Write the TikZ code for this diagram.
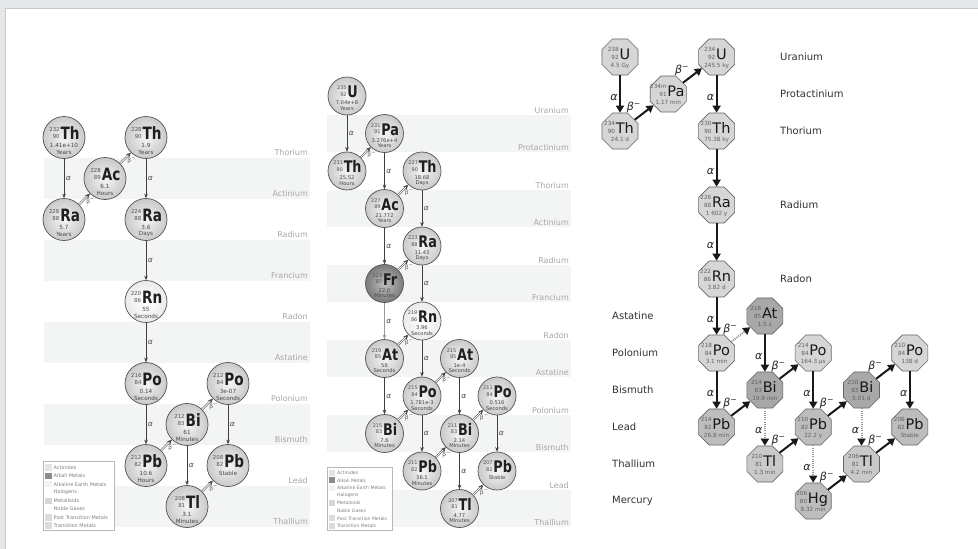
\documentclass[tikz,border=0pt]{standalone}
\usepackage{fontspec}
\setmainfont{DejaVu Sans}
\newfontfamily\symfont[FakeStretch=0.8]{DejaVu Sans Bold}
\usetikzlibrary{shapes.geometric,arrows.meta}
\definecolor{frameg}{HTML}{E6E7E8}
\definecolor{bandg}{HTML}{F3F4F4}
\definecolor{labg}{HTML}{A8A8A8}
\newcommand\myBeta{β\textsuperscript{−}}
% left panel nuclide
\newcommand\lnuc[9]{%
  \node[lball,#9] (#1) at (#2,#3) {};
  \node[anchor=base,inner sep=0pt,text=black!88] (#1s) at ({#2+0.5},{#3+1.8}) {\raisebox{1.2pt}{\fontsize{5.4}{8.8}\selectfont\color{black!68}\shortstack[r]{#4\\#5}}\hspace{1pt}{\symfont\fontsize{17}{17}\selectfont #6}};
  \node[inner sep=0pt,text=black!72,font=\fontsize{5.7}{5.7}\selectfont] (#1a) at (#2,{#3+8.2}) {#7};
  \node[inner sep=0pt,text=black!72,font=\fontsize{5.7}{5.7}\selectfont] (#1b) at (#2,{#3+14.5}) {#8};
}
% middle panel nuclide
\newcommand\mnuc[9]{%
  \node[mball,#9] (#1) at (#2,#3) {};
  \node[anchor=base,inner sep=0pt,text=black!88] (#1s) at ({#2+0.5},{#3+1.5}) {\raisebox{1.2pt}{\fontsize{5}{8.4}\selectfont\color{black!68}\shortstack[r]{#4\\#5}}\hspace{0.8pt}{\symfont\fontsize{16}{16}\selectfont #6}};
  \node[inner sep=0pt,text=black!72,font=\fontsize{5.2}{5.2}\selectfont] (#1a) at (#2,{#3+6.8}) {#7};
  \node[inner sep=0pt,text=black!72,font=\fontsize{5.2}{5.2}\selectfont] (#1b) at (#2,{#3+12.5}) {#8};
}
% right panel nuclide (octagon)
\newcommand\onuc[8]{%
  \node[oct=#8] (#1) at (#2,#3) {};
  \node[anchor=base,inner sep=0pt] (#1s) at ({#2-1},{#3+2.5}) {\raisebox{0.3pt}{\fontsize{5.7}{7}\selectfont\color{black!62}\shortstack[r]{#4\\#5}}\hspace{0.8pt}{\fontsize{14.5}{14.5}\selectfont\color{black!90}#6}};
  \node[inner sep=0pt,text=black!62,font=\fontsize{5.7}{5.7}\selectfont] (#1h) at (#2,{#3+8.5}) {#7};
}
\begin{document}
\begin{tikzpicture}[x=1pt,y=-1pt,
  lball/.style={circle,minimum size=42pt,inner sep=0pt,draw=black!68,line width=0.7pt,shading=radial,inner color=black!4,outer color=black!21},
  mball/.style={lball,minimum size=38pt},
  noble/.style={inner color=white,outer color=black!8},
  alkali/.style={inner color=black!25,outer color=black!52},
  bandlab/.style={inner sep=0pt,text=labg,font=\fontsize{8}{8}\selectfont},
  aL/.style={draw=black!75,line width=0.7pt,-{Stealth[length=4.5pt,width=3.6pt]}},
  aLf/.style={aL,draw=black!40},
  bL/.style={draw=black!70,line width=0.45pt,double=white,double distance=0.9pt,-{Stealth[length=5pt,width=4.5pt]}},
  alab/.style={right=1.5pt,pos=0.5,inner sep=0pt,text=black!70,font=\itshape\fontsize{7.5}{7.5}\selectfont},
  blab/.style={pos=0.6,below right=0pt,inner sep=0.5pt,text=black!60,font=\fontsize{6}{6}\selectfont},
  leglab/.style={anchor=west,inner sep=0pt,text=black!50},
  oct/.style={regular polygon,regular polygon sides=8,minimum size=39pt,inner sep=0pt,draw=black!60,line width=0.6pt,fill=#1},
  aR/.style={draw=black!90,line width=2pt,-{Triangle[length=7pt,width=8pt]}},
  dR/.style={draw=black!40,line width=2pt,dash pattern=on 1.1pt off 1.1pt,-{Triangle[length=7pt,width=8pt,color=black!90]}},
  ralab/.style={left=1pt,pos=0.6,inner sep=0.5pt,text=black!85,font=\itshape\fontsize{11}{11}\selectfont},
  rblab/.style={above left=0pt,pos=0.4,inner sep=0.5pt,text=black!85,font=\itshape\fontsize{11}{11}\selectfont},
  rowlab/.style={anchor=west,inner sep=0pt,text=black!80,font=\fontsize{10}{10}\selectfont}
]
\useasboundingbox (0,0) rectangle (978,549);
% frame
\fill[frameg] (0,0) rectangle (978,549);
\fill[white] (5.5,8.5) rectangle (978,549);
\draw[black!22,line width=1pt] (5.5,549) -- (5.5,8.5) -- (978,8.5);

%================ LEFT PANEL (thorium series) ================
\foreach \i in {1,3,5,7,9} \fill[bandg] (44,{117+41*\i}) rectangle (310,{158+41*\i});
\foreach \lab [count=\i from 0] in {Thorium,Actinium,Radium,Francium,Radon,Astatine,Polonium,Bismuth,Lead,Thallium}
  \node[bandlab,anchor=east] (ll\i) at (308,{153+41*\i}) {\lab};

\lnuc{lTha}{64}{137.5}{232}{90}{Th}{1.41e+10}{Years}{}
\lnuc{lAc}{105}{178.5}{228}{89}{Ac}{6.1}{Hours}{}
\lnuc{lRaa}{64}{219.5}{228}{88}{Ra}{5.7}{Years}{}
\lnuc{lThb}{146}{137.5}{228}{90}{Th}{1.9}{Years}{}
\lnuc{lRab}{146}{219.5}{224}{88}{Ra}{3.6}{Days}{}
\lnuc{lRn}{146}{301.5}{220}{86}{Rn}{55}{Seconds}{noble}
\lnuc{lPoa}{146}{383.5}{216}{84}{Po}{0.14}{Seconds}{}
\lnuc{lPba}{146}{465.5}{212}{82}{Pb}{10.6}{Hours}{}
\lnuc{lBi}{187}{424.5}{212}{83}{Bi}{61}{Minutes}{}
\lnuc{lPob}{228}{383.5}{212}{84}{Po}{3e-07}{Seconds}{}
\lnuc{lPbb}{228}{465.5}{208}{82}{Pb}{Stable}{}{}
\lnuc{lTl}{187}{506.5}{208}{81}{Tl}{3.1}{Minutes}{}

\draw[aL] (lTha) -- node[alab]{α} (lRaa);
\draw[bL] (lRaa) -- node[blab]{\myBeta} (lAc);
\draw[bL] (lAc) -- node[blab]{\myBeta} (lThb);
\draw[aL] (lThb) -- node[alab]{α} (lRab);
\draw[aL] (lRab) -- node[alab]{α} (lRn);
\draw[aL] (lRn) -- node[alab]{α} (lPoa);
\draw[aL] (lPoa) -- node[alab]{α} (lPba);
\draw[bL] (lPba) -- node[blab]{\myBeta} (lBi);
\draw[bL] (lBi) -- node[blab]{\myBeta} (lPob);
\draw[aL] (lBi) -- node[alab]{α} (lTl);
\draw[aL] (lPob) -- node[alab]{α} (lPbb);
\draw[bL] (lTl) -- node[blab]{\myBeta} (lPbb);

% legend left
\draw[black!28,fill=white,line width=0.6pt] (43,461) rectangle (114,530);
\foreach \lab/\col [count=\i from 0] in {Actinides/black!10,Alkali Metals/black!45,Alkaline Earth Metals/black!5,Halogens/white,Metalloids/black!16,Noble Gases/white,Post Transition Metals/black!14,Transition Metals/black!14}{
  \fill[\col] (45,{464.3+8.3*\i}) rectangle (51.5,{470.8+8.3*\i});
  \node[leglab,font=\fontsize{5}{5}\selectfont] (lg\i) at (53.5,{467.6+8.3*\i}) {\lab};
}

%================ MIDDLE PANEL (actinium series) ================
\foreach \i in {1,3,5,7,9,11} \fill[bandg] (327,{77.25+37.5*\i}) rectangle (571,{114.75+37.5*\i});
\foreach \lab [count=\i from 0] in {Uranium,Protactinium,Thorium,Actinium,Radium,Francium,Radon,Astatine,Polonium,Bismuth,Lead,Thallium}
  \node[bandlab,anchor=east] (ml\i) at (569,{110.25+37.5*\i}) {\lab};

\mnuc{mU}{347}{96}{235}{92}{U}{7.04e+8}{Years}{}
\mnuc{mTha}{347}{171}{231}{90}{Th}{25.52}{Hours}{}
\mnuc{mPa}{384.5}{133.5}{231}{91}{Pa}{3.276e+4}{Years}{}
\mnuc{mAc}{384.5}{208.5}{227}{89}{Ac}{21.772}{Years}{}
\mnuc{mThb}{422}{171}{227}{90}{Th}{18.68}{Days}{}
\mnuc{mRa}{422}{246}{223}{88}{Ra}{11.43}{Days}{}
\mnuc{mFr}{384.5}{283.5}{223}{87}{Fr}{22.0}{Minutes}{alkali}
\mnuc{mRn}{422}{321}{219}{86}{Rn}{3.96}{Seconds}{noble}
\mnuc{mAta}{384.5}{358.5}{219}{85}{At}{56}{Seconds}{}
\mnuc{mAtb}{459.5}{358.5}{215}{85}{At}{1e-4}{Seconds}{}
\mnuc{mPoa}{422}{396}{215}{84}{Po}{1.781e-3}{Seconds}{}
\mnuc{mBia}{384.5}{433.5}{215}{83}{Bi}{7.6}{Minutes}{}
\mnuc{mBib}{459.5}{433.5}{211}{83}{Bi}{2.14}{Minutes}{}
\mnuc{mPob}{497}{396}{211}{84}{Po}{0.516}{Seconds}{}
\mnuc{mPba}{422}{471}{211}{82}{Pb}{36.1}{Minutes}{}
\mnuc{mPbb}{497}{471}{207}{82}{Pb}{Stable}{}{}
\mnuc{mTl}{459.5}{508.5}{207}{81}{Tl}{4.77}{Minutes}{}

\draw[aL] (mU) -- node[alab]{α} (mTha);
\draw[bL] (mTha) -- node[blab]{\myBeta} (mPa);
\draw[aL] (mPa) -- node[alab]{α} (mAc);
\draw[bL] (mAc) -- node[blab]{\myBeta} (mThb);
\draw[aL] (mThb) -- node[alab]{α} (mRa);
\draw[aL] (mAc) -- node[alab]{α} (mFr);
\draw[bL] (mFr) -- node[blab]{\myBeta} (mRa);
\draw[aL] (mRa) -- node[alab]{α} (mRn);
\draw[aLf] (mFr) -- node[alab]{α} (mAta);
\draw[bL] (mAta) -- node[blab]{\myBeta} (mRn);
\draw[aL] (mRn) -- node[alab]{α} (mPoa);
\draw[aL] (mAta) -- node[alab]{α} (mBia);
\draw[bL] (mPoa) -- node[blab]{\myBeta} (mAtb);
\draw[bL] (mBia) -- node[blab]{\myBeta} (mPoa);
\draw[aL] (mPoa) -- node[alab]{α} (mPba);
\draw[aL] (mAtb) -- node[alab]{α} (mBib);
\draw[bL] (mPba) -- node[blab]{\myBeta} (mBib);
\draw[bL] (mBib) -- node[blab]{\myBeta} (mPob);
\draw[aL] (mBib) -- node[alab]{α} (mTl);
\draw[aL] (mPob) -- node[alab]{α} (mPbb);
\draw[bL] (mTl) -- node[blab]{\myBeta} (mPbb);

% legend middle
\draw[black!28,fill=white,line width=0.6pt] (327,467) rectangle (392,530);
\foreach \lab/\col [count=\i from 0] in {Actinides/black!10,Alkali Metals/black!45,Alkaline Earth Metals/black!5,Halogens/white,Metalloids/black!16,Noble Gases/white,Post Transition Metals/black!14,Transition Metals/black!14}{
  \fill[\col] (329,{469.8+7.6*\i}) rectangle (335,{475.8+7.6*\i});
  \node[leglab,font=\fontsize{4.6}{4.6}\selectfont] (mg\i) at (337,{472.8+7.6*\i}) {\lab};
}

%================ RIGHT PANEL (uranium series) ================
\onuc{rUa}{620}{57}{238}{92}{U}{4.5 Gy}{black!16}
\onuc{rTha}{620}{131}{234}{90}{Th}{24.1 d}{black!16}
\onuc{rPa}{668.3}{94}{234m}{91}{Pa}{1.17 min}{black!16}
\onuc{rUb}{716.6}{57}{234}{92}{U}{245.5 ky}{black!16}
\onuc{rThb}{716.6}{131}{230}{90}{Th}{75.38 ky}{black!16}
\onuc{rRa}{716.6}{205}{226}{88}{Ra}{1 602 y}{black!16}
\onuc{rRn}{716.6}{279}{222}{86}{Rn}{3.82 d}{black!16}
\onuc{rAt}{764.9}{316}{218}{85}{At}{1.5 s}{black!34}
\onuc{rPoa}{716.6}{353}{218}{84}{Po}{3.1 min}{black!16}
\onuc{rBia}{764.9}{390}{214}{83}{Bi}{19.9 min}{black!34}
\onuc{rPob}{813.2}{353}{214}{84}{Po}{164.3 µs}{black!16}
\onuc{rBib}{861.5}{390}{210}{83}{Bi}{5.01 d}{black!34}
\onuc{rPoc}{909.8}{353}{210}{84}{Po}{138 d}{black!16}
\onuc{rPba}{716.6}{427}{214}{82}{Pb}{26.8 min}{black!26}
\onuc{rTla}{764.9}{464}{210}{81}{Tl}{1.3 min}{black!21}
\onuc{rPbb}{813.2}{427}{210}{82}{Pb}{22.2 y}{black!26}
\onuc{rHg}{813.2}{501}{206}{80}{Hg}{8.32 min}{black!26}
\onuc{rTlb}{861.5}{464}{206}{81}{Tl}{4.2 min}{black!21}
\onuc{rPbc}{909.8}{427}{206}{82}{Pb}{Stable}{black!26}

\draw[aR] (rUa) -- node[ralab]{α} (rTha);
\draw[aR] (rTha) -- node[rblab]{\myBeta} (rPa);
\draw[aR] (rPa) -- node[rblab]{\myBeta} (rUb);
\draw[aR] (rUb) -- node[ralab]{α} (rThb);
\draw[aR] (rThb) -- node[ralab]{α} (rRa);
\draw[aR] (rRa) -- node[ralab]{α} (rRn);
\draw[aR] (rRn) -- node[ralab]{α} (rPoa);
\draw[dR] (rPoa) -- node[rblab]{\myBeta} (rAt);
\draw[aR] (rAt) -- node[ralab]{α} (rBia);
\draw[aR] (rPoa) -- node[ralab]{α} (rPba);
\draw[aR] (rPba) -- node[rblab]{\myBeta} (rBia);
\draw[aR] (rBia) -- node[rblab]{\myBeta} (rPob);
\draw[dR] (rBia) -- node[ralab]{α} (rTla);
\draw[aR] (rPob) -- node[ralab]{α} (rPbb);
\draw[aR] (rTla) -- node[rblab]{\myBeta} (rPbb);
\draw[aR] (rPbb) -- node[rblab]{\myBeta} (rBib);
\draw[dR] (rPbb) -- node[ralab]{α} (rHg);
\draw[aR] (rHg) -- node[rblab]{\myBeta} (rTlb);
\draw[aR] (rBib) -- node[rblab]{\myBeta} (rPoc);
\draw[dR] (rBib) -- node[ralab]{α} (rTlb);
\draw[aR] (rPoc) -- node[ralab]{α} (rPbc);
\draw[aR] (rTlb) -- node[rblab]{\myBeta} (rPbc);

\node[rowlab] (rlU) at (780,57) {Uranium};
\node[rowlab] (rlPa) at (780,94) {Protactinium};
\node[rowlab] (rlTh) at (780,131) {Thorium};
\node[rowlab] (rlRa) at (780,205) {Radium};
\node[rowlab] (rlRn) at (780,279) {Radon};
\node[rowlab] (rlAt) at (612,316) {Astatine};
\node[rowlab] (rlPo) at (612,353) {Polonium};
\node[rowlab] (rlBi) at (612,390) {Bismuth};
\node[rowlab] (rlPb) at (612,427) {Lead};
\node[rowlab] (rlTl) at (612,464) {Thallium};
\node[rowlab] (rlHg) at (612,501) {Mercury};
\end{tikzpicture}
\end{document}
